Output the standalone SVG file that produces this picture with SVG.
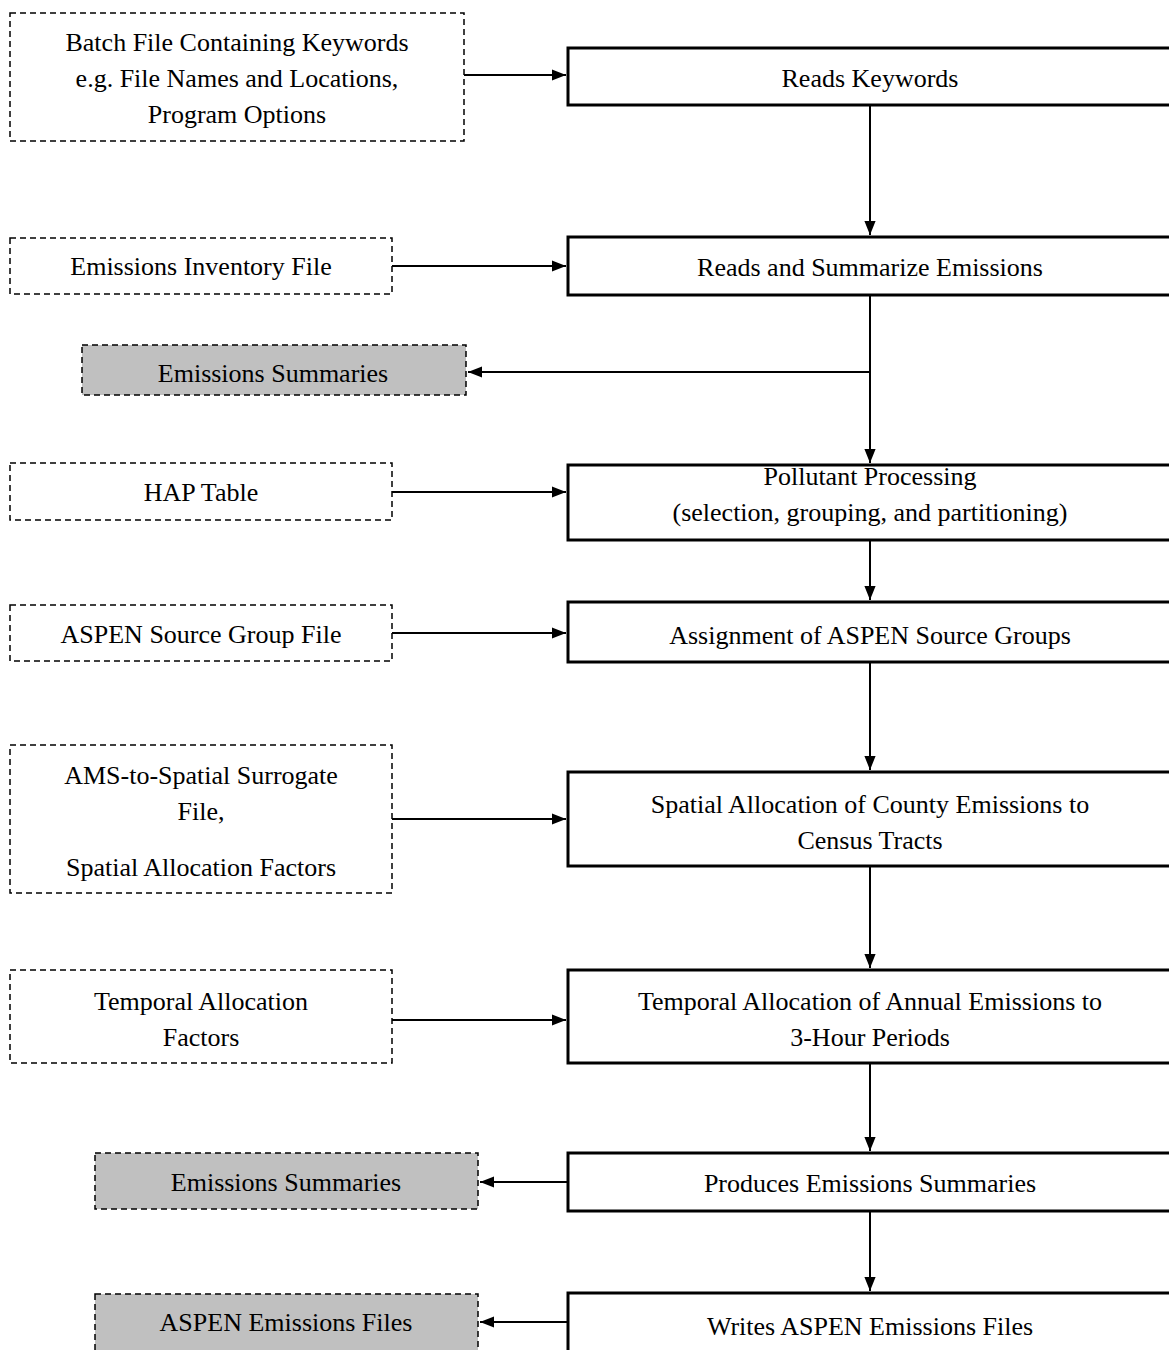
<svg xmlns="http://www.w3.org/2000/svg" width="1169" height="1350" viewBox="0 0 1169 1350">
<style>
text{font-family:"Times New Roman","Liberation Serif","DejaVu Serif",serif;font-size:26px;fill:#000;text-anchor:middle}
.proc{fill:#fff;stroke:#000;stroke-width:3}
.inp{fill:#fff;stroke:#000;stroke-width:1.5;stroke-dasharray:6,4}
.out{fill:#c0c0c0;stroke:#000;stroke-width:1.5;stroke-dasharray:6,4}
.c{fill:none;stroke:#000;stroke-width:2}
</style>
<defs>
<marker id="ah" viewBox="0 0 10 10" refX="10" refY="5" markerWidth="7" markerHeight="7" orient="auto" markerUnits="strokeWidth">
<path d="M0,1 L10,5 L0,9 z" fill="#000"/>
</marker>
</defs>
<rect width="1169" height="1350" fill="#fff"/>
<g id="connectors">
<path class="c" d="M464,75 H566" marker-end="url(#ah)"/>
<path class="c" d="M870,105 V235" marker-end="url(#ah)"/>
<path class="c" d="M392,266 H566" marker-end="url(#ah)"/>
<path class="c" d="M870,295 V463" marker-end="url(#ah)"/>
<path class="c" d="M870,372 H468" marker-end="url(#ah)"/>
<path class="c" d="M392,492 H566" marker-end="url(#ah)"/>
<path class="c" d="M870,540 V600" marker-end="url(#ah)"/>
<path class="c" d="M392,633 H566" marker-end="url(#ah)"/>
<path class="c" d="M870,662 V770" marker-end="url(#ah)"/>
<path class="c" d="M392,819 H566" marker-end="url(#ah)"/>
<path class="c" d="M870,866 V968" marker-end="url(#ah)"/>
<path class="c" d="M392,1020 H566" marker-end="url(#ah)"/>
<path class="c" d="M870,1063 V1151" marker-end="url(#ah)"/>
<path class="c" d="M568,1182 H480" marker-end="url(#ah)"/>
<path class="c" d="M870,1211 V1291" marker-end="url(#ah)"/>
<path class="c" d="M568,1322 H480" marker-end="url(#ah)"/>
</g>
<g id="batch"><rect class="inp" x="10" y="13" width="454" height="128"/>
<text x="237" y="51">Batch File Containing Keywords</text><text x="237" y="87">e.g. File Names and Locations,</text><text x="237" y="123">Program Options</text></g>
<g id="readsKeywords"><rect class="proc" x="568" y="48" width="610" height="57"/><text x="870" y="87">Reads Keywords</text></g>
<g id="inventory"><rect class="inp" x="10" y="238" width="382" height="56"/><text x="201" y="275">Emissions Inventory File</text></g>
<g id="readsSummarize"><rect class="proc" x="568" y="237" width="610" height="58"/><text x="870" y="276">Reads and Summarize Emissions</text></g>
<g id="summaries1"><rect class="out" x="82" y="345" width="384" height="50"/><text x="273" y="382">Emissions Summaries</text></g>
<g id="hap"><rect class="inp" x="10" y="463" width="382" height="57"/><text x="201" y="501">HAP Table</text></g>
<g id="pollutant"><rect class="proc" x="568" y="465" width="610" height="75"/><text x="870" y="485">Pollutant Processing</text><text x="870" y="521">(selection, grouping, and partitioning)</text></g>
<g id="sourceGroupFile"><rect class="inp" x="10" y="605" width="382" height="56"/><text x="201" y="643">ASPEN Source Group File</text></g>
<g id="assignment"><rect class="proc" x="568" y="602" width="610" height="60"/><text x="870" y="644">Assignment of ASPEN Source Groups</text></g>
<g id="surrogate"><rect class="inp" x="10" y="745" width="382" height="148"/><text x="201" y="784">AMS-to-Spatial Surrogate</text><text x="201" y="820">File,</text><text x="201" y="876">Spatial Allocation Factors</text></g>
<g id="spatial"><rect class="proc" x="568" y="772" width="610" height="94"/><text x="870" y="813">Spatial Allocation of County Emissions to</text><text x="870" y="849">Census Tracts</text></g>
<g id="temporalFactors"><rect class="inp" x="10" y="970" width="382" height="93"/><text x="201" y="1010">Temporal Allocation</text><text x="201" y="1046">Factors</text></g>
<g id="temporal"><rect class="proc" x="568" y="970" width="610" height="93"/><text x="870" y="1010">Temporal Allocation of Annual Emissions to</text><text x="870" y="1046">3-Hour Periods</text></g>
<g id="summaries2"><rect class="out" x="95" y="1153" width="383" height="56"/><text x="286" y="1191">Emissions Summaries</text></g>
<g id="produces"><rect class="proc" x="568" y="1153" width="610" height="58"/><text x="870" y="1192">Produces Emissions Summaries</text></g>
<g id="aspenFiles"><rect class="out" x="95" y="1294" width="383" height="70"/><text x="286" y="1331">ASPEN Emissions Files</text></g>
<g id="writes"><rect class="proc" x="568" y="1293" width="610" height="70"/><text x="870" y="1335">Writes ASPEN Emissions Files</text></g>
</svg>
